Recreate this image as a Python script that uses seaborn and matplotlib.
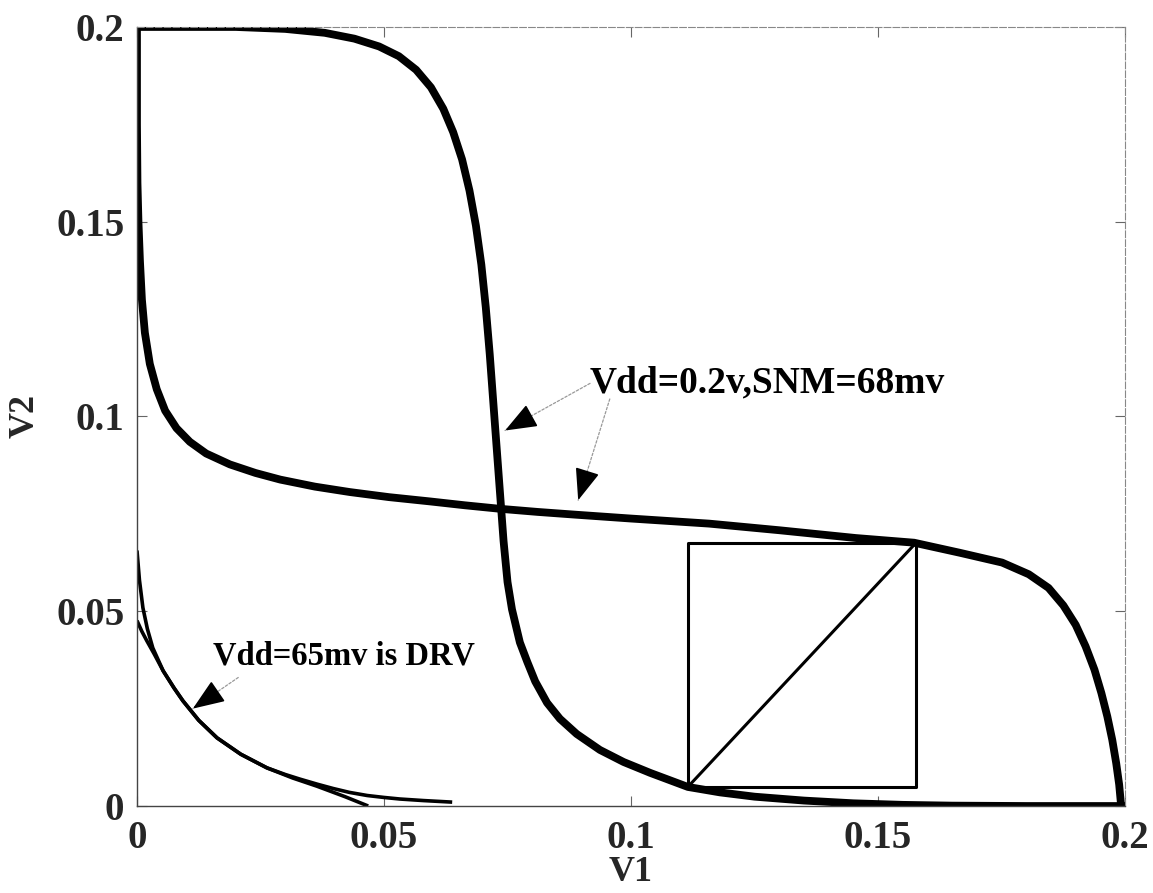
import matplotlib
matplotlib.use("Agg")
import matplotlib.pyplot as plt
import seaborn as sns
import pandas as pd

# ---------------- data ----------------
# Vdd = 0.2 V butterfly curves
vtc1_v1 = [0.0, 0.02, 0.03, 0.038, 0.044, 0.049, 0.053, 0.0565, 0.0595, 0.062,
           0.064, 0.0658, 0.0673, 0.0686, 0.0697, 0.0706, 0.0714, 0.0721, 0.0728,
           0.0735, 0.0742, 0.075, 0.0759, 0.0775, 0.079, 0.0806, 0.083, 0.0856,
           0.089, 0.0937, 0.0985, 0.1039, 0.1115, 0.118, 0.125, 0.135, 0.145,
           0.155, 0.165, 0.18, 0.2]
vtc1_v2 = [0.2, 0.2, 0.1995, 0.1985, 0.197, 0.195, 0.1925, 0.189, 0.1845, 0.179,
           0.173, 0.166, 0.158, 0.149, 0.139, 0.128, 0.116, 0.104, 0.092,
           0.08, 0.068, 0.0575, 0.0505, 0.042, 0.037, 0.032, 0.0265, 0.0224,
           0.0185, 0.0144, 0.0113, 0.0085, 0.0049, 0.0035, 0.0024, 0.0014, 0.0007,
           0.0003, 0.0001, 0.0, 0.0]

vtc2_v1 = [0.0, 0.0, 0.0001, 0.0003, 0.0006, 0.001, 0.0016, 0.0026, 0.004, 0.0057,
           0.008, 0.0107, 0.014, 0.0188, 0.024, 0.029, 0.036, 0.0431, 0.051, 0.0593,
           0.0664, 0.0735, 0.0811, 0.0887, 0.1, 0.1158, 0.13, 0.1455, 0.1573,
           0.1666, 0.1751, 0.1805, 0.1845, 0.1875, 0.19, 0.192, 0.1938, 0.1952,
           0.1964, 0.1974, 0.1982, 0.1988, 0.1992]
vtc2_v2 = [0.2, 0.175, 0.16, 0.15, 0.14, 0.13, 0.1215, 0.1135, 0.107, 0.1015,
           0.097, 0.0935, 0.0905, 0.0877, 0.0855, 0.0838, 0.082, 0.0806, 0.0793, 0.0782,
           0.0772, 0.0763, 0.0755, 0.0748, 0.0738, 0.0725, 0.0708, 0.0688, 0.0676,
           0.065, 0.0625, 0.0595, 0.056, 0.0515, 0.0465, 0.041, 0.035, 0.029,
           0.023, 0.017, 0.011, 0.0055, 0.0]

# Vdd = 65 mV butterfly curves (DRV)
drv1_v1 = [0.0, 0.0005, 0.0012, 0.0021, 0.0032, 0.0053, 0.0075, 0.0093, 0.0125,
           0.0162, 0.021, 0.0263, 0.0315, 0.0364, 0.0421, 0.0468]
drv1_v2 = [0.0656, 0.058, 0.0509, 0.0455, 0.0406, 0.0347, 0.0303, 0.027, 0.022,
           0.0175, 0.0133, 0.0098, 0.0072, 0.0051, 0.0024, 0.0]
drv2_v1 = [0.0, 0.001, 0.002, 0.0035, 0.0053, 0.0075, 0.0093, 0.0125, 0.0162,
           0.021, 0.0263, 0.03, 0.033, 0.0365, 0.0397, 0.043, 0.0466, 0.05, 0.0532,
           0.058, 0.0638]
drv2_v2 = [0.0476, 0.0448, 0.0424, 0.039, 0.0347, 0.0303, 0.027, 0.022, 0.0175,
           0.0133, 0.0098, 0.0081, 0.0069, 0.0056, 0.0045, 0.0035, 0.0027, 0.0022,
           0.0018, 0.0014, 0.001]

# SNM square and its diagonal
snm_box_v1 = [0.1115, 0.1577, 0.1577, 0.1115, 0.1115]
snm_box_v2 = [0.0049, 0.0049, 0.0676, 0.0676, 0.0049]
snm_diag_v1 = [0.1115, 0.1577]
snm_diag_v2 = [0.0049, 0.0676]

tick_values = [0, 0.05, 0.1, 0.15, 0.2]
tick_labels = ["0", "0.05", "0.1", "0.15", "0.2"]

label_snm = "Vdd=0.2v,SNM=68mv"
label_drv = "Vdd=65mv is DRV"
# ------------------------------------------------------------------

sns.set_theme(style="ticks")
serif = ["Liberation Serif", "DejaVu Serif"]
plt.rcParams["font.family"] = serif

fig = plt.figure(figsize=(11.53, 8.93), dpi=100)
ax = fig.add_axes([0.1188, 0.0974, 0.857, 0.8724])

def draw(xs, ys, lw):
    df = pd.DataFrame({"V1": xs, "V2": ys})
    sns.lineplot(data=df, x="V1", y="V2", sort=False, estimator=None,
                 color="black", linewidth=lw, ax=ax,
                 solid_capstyle="butt", solid_joinstyle="round")

draw(vtc1_v1, vtc1_v2, 5.6)
draw(vtc2_v1, vtc2_v2, 5.6)
draw(drv1_v1, drv1_v2, 2.6)
draw(drv2_v1, drv2_v2, 2.6)
draw(snm_box_v1, snm_box_v2, 2.2)
draw(snm_diag_v1, snm_diag_v2, 2.2)

ax.set_xlim(0, 0.2)
ax.set_ylim(0, 0.2)
ax.set_xticks(tick_values)
ax.set_xticklabels(tick_labels)
ax.set_yticks(tick_values)
ax.set_yticklabels(tick_labels)
for lab in ax.get_xticklabels() + ax.get_yticklabels():
    lab.set_fontweight("bold")
    lab.set_fontsize(28)
    lab.set_family(serif)
ax.tick_params(axis="both", direction="in", length=7, width=0.8, color="#666666",
               top=True, right=True)
ax.tick_params(axis="x", pad=10)
ax.tick_params(axis="y", pad=9)

for side in ["left", "bottom"]:
    ax.spines[side].set_color("#444444")
    ax.spines[side].set_linewidth(1.0)
for side in ["top", "right"]:
    ax.spines[side].set_color("#888888")
    ax.spines[side].set_linewidth(0.8)
    ax.spines[side].set_linestyle((0, (6, 2)))

ax.set_xlabel("V1", fontsize=26, fontweight="bold", family=serif)
ax.set_ylabel("V2", fontsize=26, fontweight="bold", family=serif)
ax.xaxis.set_label_coords(0.5, -0.064)
ax.yaxis.set_label_coords(-0.097, 0.5)

# annotations: thin grey shaft + black arrow head
def arrow(tail, tip):
    ax.annotate("", xy=tip, xytext=tail,
                arrowprops=dict(arrowstyle="-", color="#999999", lw=0.9,
                                linestyle=(0, (2, 1.5)), shrinkA=0, shrinkB=0))
    near = (tip[0] + 0.13 * (tail[0] - tip[0]), tip[1] + 0.13 * (tail[1] - tip[1]))
    ax.annotate("", xy=tip, xytext=near,
                arrowprops=dict(arrowstyle="-|>,head_length=0.9,head_width=0.35",
                                color="black", lw=1.2, shrinkA=0, shrinkB=0,
                                mutation_scale=22))

ax.text(0.0917, 0.1085, label_snm, fontsize=27, fontweight="bold", family=serif,
        ha="left", va="center", color="black")
arrow((0.0917, 0.1085), (0.0745, 0.0964))
arrow((0.0957, 0.1045), (0.0893, 0.0785))

ax.text(0.0154, 0.0386, label_drv, fontsize=23.5, fontweight="bold", family=serif,
        ha="left", va="center", color="black")
arrow((0.0205, 0.0330), (0.0113, 0.0250))

fig.savefig("out.png", dpi=100)
